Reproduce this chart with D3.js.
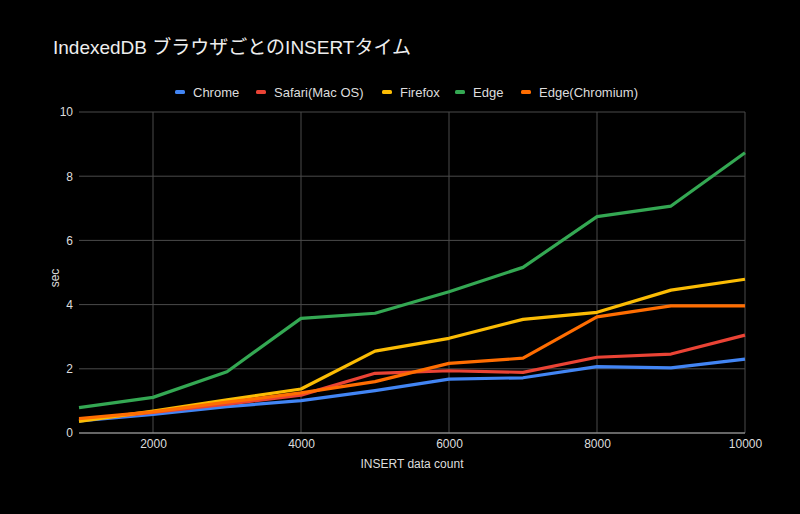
<!DOCTYPE html>
<html><head><meta charset="utf-8">
<script src="https://cdn.jsdelivr.net/npm/d3@7"></script>
<style>html,body{margin:0;padding:0;background:#000;}svg{display:block;}</style>
</head><body>
<svg id="c" width="800" height="514"></svg>
<script>
const xValues = [1000,2000,3000,4000,5000,6000,7000,8000,9000,10000];
const chrome   = [0.38,0.58,0.82,1.01,1.32,1.68,1.72,2.07,2.03,2.30];
const safari   = [0.40,0.64,0.90,1.18,1.86,1.94,1.89,2.36,2.46,3.05];
const firefox  = [0.36,0.68,1.03,1.37,2.55,2.95,3.54,3.76,4.45,4.79];
const edge     = [0.79,1.11,1.91,3.57,3.73,4.40,5.16,6.74,7.07,8.73];
const edgeChr  = [0.45,0.66,0.96,1.25,1.60,2.17,2.33,3.62,3.96,3.96];
const seriesNames = ["Chrome","Safari(Mac OS)","Firefox","Edge","Edge(Chromium)"];
const seriesColors = ["#4285F4","#EA4335","#FBBC04","#34A853","#FF6D01"];
const xTicks = [2000,4000,6000,8000,10000];
const yTicks = [0,2,4,6,8,10];
const title = "IndexedDB ブラウザごとのINSERTタイム";
const xTitle = "INSERT data count";
const yTitle = "sec";

const allSeries = [chrome,safari,firefox,edge,edgeChr];
const svg = d3.select("#c");
const font = "Arial, 'Liberation Sans', 'Noto Sans CJK JP', sans-serif";
svg.append("rect").attr("width",800).attr("height",514).attr("fill","#000");

const L=79, R=745, T=112, B=433;
const x = d3.scaleLinear().domain([1000,10000]).range([L,R]);
const y = d3.scaleLinear().domain([0,10]).range([B,T]);

// grid
const g = svg.append("g");
g.selectAll(".hg").data(yTicks.filter(d=>d>0)).enter().append("line")
 .attr("x1",L).attr("x2",R).attr("y1",d=>y(d)).attr("y2",d=>y(d))
 .attr("stroke","#4a4a4a").attr("stroke-width",1);
g.selectAll(".vg").data(xTicks).enter().append("line")
 .attr("x1",d=>x(d)).attr("x2",d=>x(d)).attr("y1",T).attr("y2",B)
 .attr("stroke","#4a4a4a").attr("stroke-width",1);
g.append("line").attr("x1",L).attr("x2",R).attr("y1",y(0)).attr("y2",y(0))
 .attr("stroke","#888").attr("stroke-width",1.3);

// axes labels
const yAxis = d3.axisLeft(y).tickValues(yTicks).tickSize(0).tickPadding(6);
const ya = svg.append("g").attr("transform",`translate(${L},0)`).call(yAxis);
ya.select(".domain").remove();
ya.selectAll("text").attr("fill","#ddd").style("font-family",font).style("font-size","12px");

const xAxis = d3.axisBottom(x).tickValues(xTicks).tickSize(0).tickPadding(6).tickFormat(d3.format("d"));
const xa = svg.append("g").attr("transform",`translate(0,${B})`).call(xAxis);
xa.select(".domain").remove();
xa.selectAll("text").attr("fill","#ddd").style("font-family",font).style("font-size","12px");

// lines
const line = d3.line().x((d,i)=>x(xValues[i])).y(d=>y(d));
allSeries.forEach((s,i)=>{
  svg.append("path").datum(s).attr("d",line).attr("fill","none")
   .attr("stroke",seriesColors[i]).attr("stroke-width",3.2).attr("stroke-linejoin","round");
});

// titles
svg.append("text").attr("x",53).attr("y",54).text(title)
 .attr("fill","#eee").style("font-family",font).style("font-size","19px");
svg.append("text").attr("x",(L+R)/2).attr("y",468).attr("text-anchor","middle").text(xTitle)
 .attr("fill","#ddd").style("font-family",font).style("font-size","12px");
svg.append("text").attr("transform","translate(59,278) rotate(-90)").attr("text-anchor","middle").text(yTitle)
 .attr("fill","#ddd").style("font-family",font).style("font-size","12px");

// legend
const legX = [175,256,382,455,521];
const lg = svg.append("g");
seriesNames.forEach((n,i)=>{
  lg.append("rect").attr("x",legX[i]).attr("y",90).attr("width",10).attr("height",4).attr("rx",1.5).attr("fill",seriesColors[i]);
  lg.append("text").attr("x",legX[i]+18).attr("y",96.5).text(n)
   .attr("fill","#ddd").style("font-family",font).style("font-size","13px");
});
</script>
</body></html>
